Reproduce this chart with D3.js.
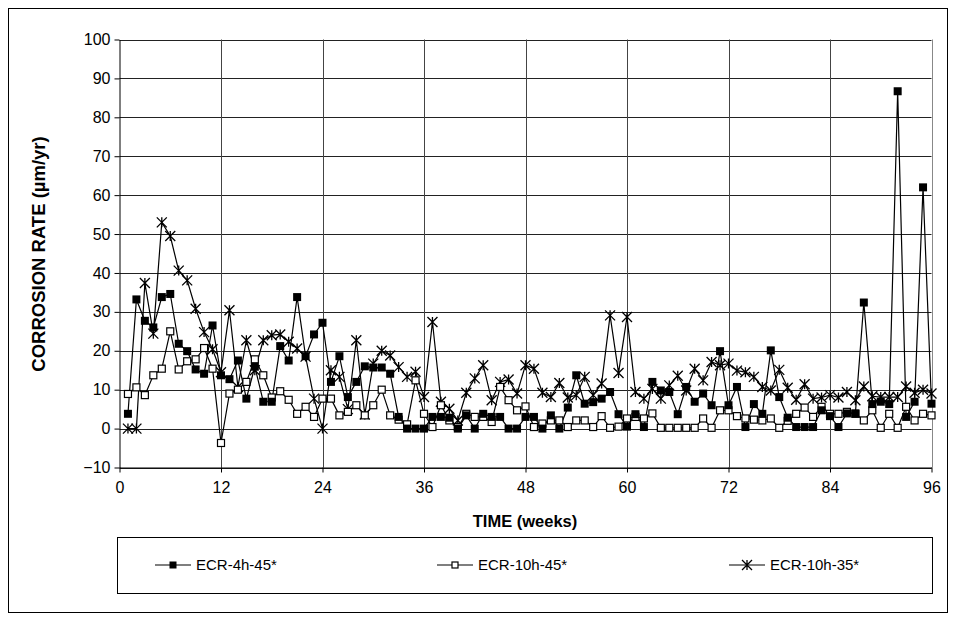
<!DOCTYPE html>
<html lang="en">
<head>
  <meta charset="utf-8">
  <title>Corrosion rate vs time</title>
  <script src="https://d3js.org/d3.v7.min.js"></script>
  <style>
    body { margin: 0; background: #fff; }
    svg text { font-family: "Liberation Sans", Arial, sans-serif; fill: #000; }
  </style>
</head>
<body>
  <svg width="956" height="621"></svg>
  <script>
    // weekly readings, weeks 1..96
    const weeks = d3.range(1, 97);
    const ecr4h45 = [3.8, 33.2, 27.7, 26, 33.8, 34.6, 21.8, 19.9, 15.2, 14.1, 26.5, 13.7,
      12.7, 17.5, 7.7, 15.9, 6.9, 6.9, 21.2, 17.5, 33.8, 18.6, 24.2, 27.2,
      12, 18.6, 8.1, 12, 16, 15.7, 15.7, 14.1, 3, 0, 0, 0,
      3, 3, 2.8, 0, 3.4, 0, 3.8, 3, 3, 0, 0, 3,
      3, 0, 3.4, 0, 5.4, 13.7, 6.4, 6.8, 7.7, 9.4, 3.7, 0.5,
      3.7, 0.4, 12, 9.8, 9.4, 3.7, 10.7, 6.9, 9, 6, 19.9, 6,
      10.7, 0.4, 6.3, 3.8, 20.1, 8.1, 2.8, 0.4, 0.4, 0.4, 4.7, 3.2,
      0.4, 3.9, 3.9, 32.4, 6.3, 6.9, 6.3, 86.7, 3, 6.9, 62, 6.4];
    const ecr10h45 = [8.9, 10.6, 8.6, 13.7, 15.4, 25, 15.2, 17.3, 17.8, 20.7, 15.4, -3.7,
      9, 10, 12, 17.8, 13.7, 8, 9.6, 7.4, 3.8, 5.6, 3, 7.7,
      7.7, 3.4, 4.3, 6, 3.4, 6, 10, 3.4, 2.3, 1.1, 12.4, 3.8,
      0.4, 6, 2.1, 0.4, 3.8, 3, 3, 1.7, 10.7, 7.3, 4.7, 5.7,
      0.4, 1.3, 2.1, 2.1, 0.4, 2.1, 2.1, 0.4, 3.2, 0.2, 0.5, 2.6,
      3, 2.6, 3.9, 0.2, 0.2, 0.2, 0.2, 0.2, 2.6, 0.2, 4.7, 4.7,
      3.2, 2.6, 2.3, 2.1, 2.6, 0.2, 2, 3.8, 5.4, 3, 5.6, 3.8,
      3.8, 4.3, 3.8, 2.1, 4.7, 0.2, 3.8, 0.2, 5.6, 2.1, 3.8, 3.4];
    const ecr10h35 = [0, 0, 37.4, 24.4, 53, 49.5, 40.6, 38.1, 30.8, 24.8, 20.4, 14.5,
      30.4, 10.7, 22.7, 15, 22.7, 24, 24.2, 22.3, 20.6, 18.5, 7.7, 0,
      15, 13.3, 5, 22.7, 3.6, 16.7, 20, 18.8, 15.8, 13.3, 14.6, 8.1,
      27.4, 6.9, 5.1, 2.1, 9.2, 12.9, 16.3, 7.3, 12, 12.6, 9, 16.3,
      15.4, 9.2, 8.1, 11.7, 8, 8.6, 13.3, 8.6, 11.6, 29.1, 14.3, 28.7,
      9.4, 7.7, 10.2, 7.7, 11.1, 13.6, 9.8, 15.4, 12.4, 17.1, 16.3, 16.7,
      14.9, 14.5, 13.3, 10.7, 9.8, 15.1, 10.5, 7.4, 11.4, 7.7, 8, 8.6,
      8, 9.4, 7.3, 10.8, 8.3, 8.1, 8.1, 8.1, 10.8, 9.2, 10, 9];

    const seriesNames = ["ECR-4h-45*", "ECR-10h-45*", "ECR-10h-35*"];
    const seriesValues = [ecr4h45, ecr10h45, ecr10h35];
    const markerTypes = ["filled", "open", "star"];
    const xTicks = d3.range(0, 97, 12);
    const yTicks = d3.range(-10, 101, 10);

    const svg = d3.select("svg");

    // outer frame
    svg.append("rect")
      .attr("x", 8.5).attr("y", 8.5)
      .attr("width", 939).attr("height", 604)
      .attr("fill", "none").attr("stroke", "#000");

    const x = d3.scaleLinear().domain([0, 96]).range([119.5, 931.5]);
    const y = d3.scaleLinear().domain([-10, 100]).range([467.5, 39.5]);

    // gridlines
    svg.append("g")
      .selectAll("line.h")
      .data(yTicks)
      .join("line")
      .attr("x1", x(0)).attr("x2", x(96))
      .attr("y1", d => Math.round(y(d)) + 0.5).attr("y2", d => Math.round(y(d)) + 0.5)
      .attr("stroke", "#222");
    svg.append("g")
      .selectAll("line.v")
      .data(xTicks.slice(1))
      .join("line")
      .attr("x1", d => Math.round(x(d)) + 0.5).attr("x2", d => Math.round(x(d)) + 0.5)
      .attr("y1", y(100)).attr("y2", y(-10))
      .attr("stroke", d => d === 96 ? "#888" : "#444");

    // axes
    const yAxis = svg.append("g")
      .attr("transform", `translate(${x(0)},0)`)
      .call(d3.axisLeft(y).tickValues(yTicks).tickSize(5).tickPadding(4).tickSizeOuter(0));
    const xAxis = svg.append("g")
      .attr("transform", `translate(0,${y(-10)})`)
      .call(d3.axisBottom(x).tickValues(xTicks).tickSize(5).tickPadding(9).tickSizeOuter(0));
    [xAxis, yAxis].forEach(g => {
      g.select(".domain").attr("stroke", "#000");
      g.selectAll(".tick line").attr("stroke", "#000");
      g.selectAll(".tick text")
        .attr("font-family", "'Liberation Sans', Arial, sans-serif")
        .attr("font-size", 16);
    });

    svg.append("text")
      .attr("x", 525).attr("y", 527)
      .attr("text-anchor", "middle")
      .attr("font-size", 16.5).attr("font-weight", "bold")
      .text("TIME (weeks)");
    svg.append("text")
      .attr("transform", `translate(45,254) rotate(-90)`)
      .attr("text-anchor", "middle")
      .attr("font-size", 18.5).attr("font-weight", "bold")
      .text("CORROSION RATE (µm/yr)");

    function drawMarker(g, type, size) {
      const h = size / 2;
      if (type === "filled") {
        g.append("rect").attr("x", -h).attr("y", -h).attr("width", size).attr("height", size)
          .attr("fill", "#000");
      } else if (type === "open") {
        g.append("rect").attr("x", -h + 0.5).attr("y", -h + 0.5)
          .attr("width", size - 1).attr("height", size - 1)
          .attr("fill", "#fff").attr("stroke", "#000").attr("stroke-width", 1.2);
      } else {
        g.append("path")
          .attr("d", `M${-h},${-h}L${h},${h}M${-h},${h}L${h},${-h}M0,${-h}L0,${h}`)
          .attr("stroke", "#000").attr("stroke-width", 1.3).attr("fill", "none");
      }
    }

    const line = d3.line().x((d, i) => x(weeks[i])).y(d => y(d));
    const plot = svg.append("g");
    // draw in reverse so filled squares sit on top
    [2, 1, 0].forEach(s => {
      plot.append("path")
        .datum(seriesValues[s])
        .attr("d", line)
        .attr("fill", "none")
        .attr("stroke", "#000")
        .attr("stroke-width", 1.2);
    });
    [2, 1, 0].forEach(s => {
      seriesValues[s].forEach((v, i) => {
        const g = plot.append("g").attr("transform", `translate(${x(weeks[i])},${y(v)})`);
        drawMarker(g, markerTypes[s], s === 2 ? 10 : 8);
      });
    });

    // legend
    svg.append("rect")
      .attr("x", 117.5).attr("y", 537.5)
      .attr("width", 815).attr("height", 56)
      .attr("fill", "none").attr("stroke", "#000");
    const legendX = [155, 437, 729];
    seriesNames.forEach((name, s) => {
      const g = svg.append("g").attr("transform", `translate(${legendX[s]},565)`);
      g.append("line").attr("x1", 0).attr("x2", 36).attr("y1", 0).attr("y2", 0)
        .attr("stroke", "#000").attr("stroke-width", 1.2);
      const m = g.append("g").attr("transform", "translate(18,0)");
      drawMarker(m, markerTypes[s], s === 2 ? 10 : 7);
      g.append("text").attr("x", 41).attr("y", 5)
        .attr("font-size", 15)
        .text(name);
    });
  </script>
</body>
</html>
